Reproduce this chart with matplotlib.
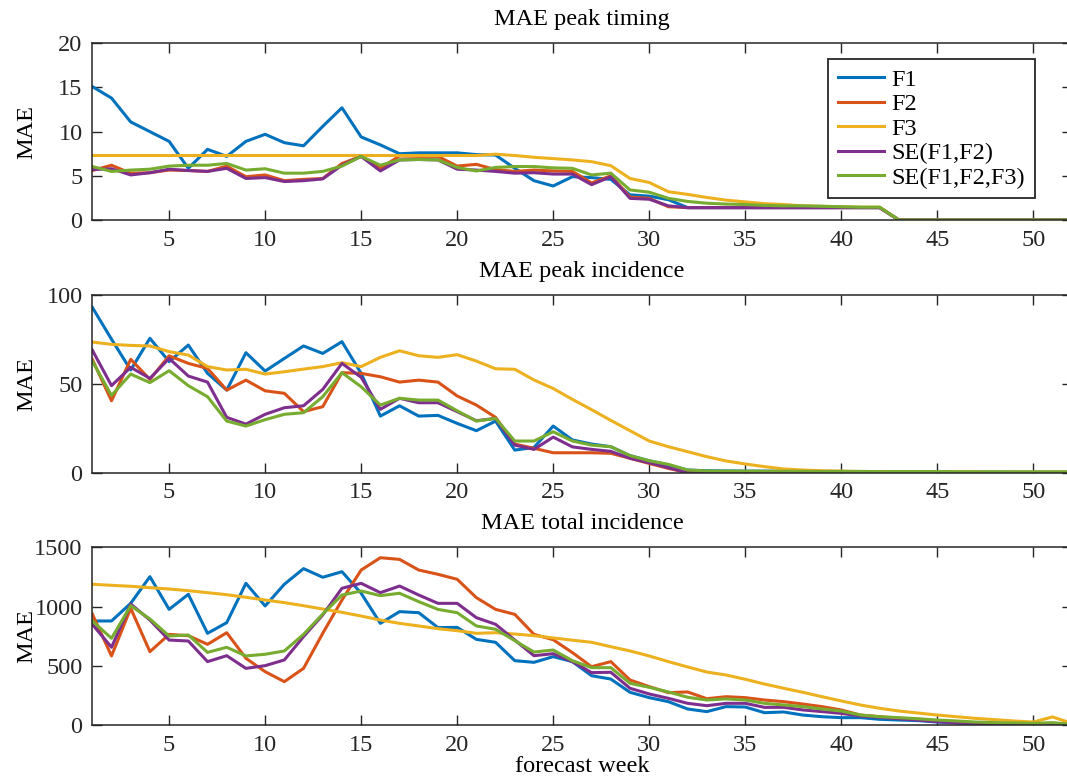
import numpy as np
import matplotlib
matplotlib.use("Agg")
import matplotlib.pyplot as plt

plt.rcParams['font.family'] = ['Liberation Serif', 'DejaVu Serif']
plt.rcParams['font.size'] = 17.5

weeks = np.arange(1, 53)
series_names = ['F1', 'F2', 'F3', 'SE(F1,F2)', 'SE(F1,F2,F3)']
colors = ['#0072BD', '#D95319', '#EDB120', '#7E2F8E', '#77AC30']

# MAE of the peak timing (weeks)
timing_f1 = [15.1, 13.8, 11.1, 10.0, 8.9, 5.85, 8.0, 7.2, 8.9, 9.7, 8.75, 8.4, 10.6, 12.7, 9.4, 8.5,
             7.5, 7.6, 7.6, 7.6, 7.4, 7.35, 5.85, 4.45, 3.85, 4.9, 4.8, 4.6, 2.85, 2.7, 2.3, 1.4,
             1.4, 1.4, 1.4, 1.4, 1.4, 1.4, 1.4, 1.4, 1.4, 1.4, 0, 0, 0, 0, 0, 0, 0, 0, 0, 0]
timing_f2 = [5.6, 6.2, 5.3, 5.35, 5.65, 5.6, 5.5, 6.1, 4.9, 5.1, 4.45, 4.6, 4.7, 6.4, 7.2, 5.85,
             7.25, 7.2, 7.2, 6.1, 6.3, 5.7, 5.5, 5.65, 5.55, 5.5, 4.2, 5.0, 2.6, 2.45, 1.5, 1.4,
             1.4, 1.4, 1.4, 1.4, 1.4, 1.4, 1.4, 1.4, 1.4, 1.4, 0, 0, 0, 0, 0, 0, 0, 0, 0, 0]
timing_f3 = [7.3, 7.3, 7.3, 7.3, 7.3, 7.3, 7.3, 7.3, 7.3, 7.3, 7.3, 7.3, 7.3, 7.3, 7.3, 7.3,
             7.3, 7.3, 7.3, 7.3, 7.3, 7.45, 7.3, 7.1, 6.95, 6.8, 6.6, 6.15, 4.7, 4.25, 3.2, 2.9,
             2.55, 2.25, 2.05, 1.85, 1.75, 1.6, 1.55, 1.5, 1.45, 1.45, 0, 0, 0, 0, 0, 0, 0, 0, 0, 0]
timing_se12 = [5.7, 5.8, 5.1, 5.35, 5.75, 5.6, 5.5, 5.85, 4.7, 4.8, 4.35, 4.45, 4.65, 6.2, 7.2, 5.55,
               6.8, 6.85, 6.8, 5.75, 5.65, 5.5, 5.3, 5.35, 5.2, 5.2, 4.0, 4.9, 2.45, 2.35, 1.6, 1.4,
               1.4, 1.4, 1.4, 1.4, 1.4, 1.4, 1.4, 1.4, 1.4, 1.4, 0, 0, 0, 0, 0, 0, 0, 0, 0, 0]
timing_se123 = [6.05, 5.5, 5.65, 5.75, 6.1, 6.2, 6.2, 6.4, 5.65, 5.8, 5.3, 5.3, 5.5, 6.1, 7.2, 6.2,
                6.8, 6.85, 6.8, 5.95, 5.55, 5.95, 6.05, 6.05, 5.9, 5.85, 5.1, 5.3, 3.4, 3.15, 2.45, 2.1,
                1.9, 1.8, 1.75, 1.65, 1.6, 1.6, 1.55, 1.5, 1.45, 1.45, 0, 0, 0, 0, 0, 0, 0, 0, 0, 0]

# MAE of the peak incidence
peak_f1 = [92.9, 75.0, 57.7, 75.5, 62.4, 71.7, 55.8, 46.4, 67.4, 57.1, 64.2, 71.2, 67.0, 73.6, 55.8, 31.8,
           37.6, 31.8, 32.2, 27.7, 23.6, 29.0, 12.7, 14.2, 26.2, 18.4, 16.1, 14.6, 9.6, 6.7, 4.3, 1.5,
           1.1, 1.0, 0.9, 0.9, 0.8, 0.8, 0.7, 0.7, 0.6, 0.6, 0.5, 0.5, 0.5, 0.4, 0.4, 0.4, 0.3, 0.3, 0.3, 0.3]
peak_f2 = [63.7, 40.4, 63.7, 52.4, 65.7, 61.4, 58.6, 46.4, 52.0, 46.0, 44.6, 34.3, 37.1, 56.2, 55.8, 53.9,
           50.9, 52.0, 50.9, 43.1, 38.0, 31.1, 16.1, 13.7, 11.2, 11.2, 11.2, 10.9, 8.1, 5.2, 2.4, 0,
           0, 0, 0, 0, 0, 0, 0, 0, 0, 0, 0, 0, 0, 0, 0, 0, 0, 0, 0, 0]
peak_f3 = [73.4, 72.1, 71.5, 71.2, 68.0, 66.1, 59.6, 57.7, 58.1, 55.4, 56.7, 58.2, 59.6, 61.8, 59.6, 64.8,
           68.5, 65.7, 64.8, 66.3, 62.7, 58.4, 58.1, 52.1, 47.3, 41.2, 35.4, 29.4, 23.6, 17.8, 14.6, 11.8,
           9.0, 6.6, 4.9, 3.4, 2.1, 1.5, 1.1, 0.9, 0.7, 0.6, 0.5, 0.5, 0.4, 0.4, 0.4, 0.3, 0.3, 0.3, 0.3, 0.3]
peak_se12 = [68.9, 48.9, 59.2, 53.0, 64.2, 54.3, 50.9, 31.1, 27.3, 32.8, 36.5, 37.6, 46.8, 61.4, 53.6, 35.6,
             41.8, 39.3, 39.3, 34.3, 29.2, 30.5, 15.5, 13.1, 20.0, 14.5, 13.1, 12.0, 8.1, 5.6, 2.8, 0,
             0, 0, 0, 0, 0, 0, 0, 0, 0, 0, 0, 0, 0, 0, 0, 0, 0, 0, 0, 0]
peak_se123 = [62.7, 43.4, 55.4, 50.6, 57.3, 48.9, 42.7, 29.0, 26.2, 29.8, 32.8, 33.7, 42.7, 56.2, 48.3, 38.0,
              41.8, 40.8, 40.8, 34.8, 29.0, 30.5, 17.8, 17.8, 23.0, 17.8, 15.5, 14.6, 9.6, 6.7, 4.7, 1.5,
              1.0, 0.9, 0.9, 0.8, 0.8, 0.8, 0.7, 0.7, 0.7, 0.6, 0.6, 0.6, 0.6, 0.5, 0.5, 0.5, 0.5, 0.5, 0.5, 0.5]

# MAE of the total incidence
total_f1 = [878, 878, 1027, 1252, 976, 1103, 774, 864, 1196, 1005, 1188, 1320, 1247, 1294, 1112, 858,
            957, 948, 822, 824, 723, 698, 543, 529, 577, 535, 416, 388, 276, 231, 197, 135,
            113, 155, 152, 104, 110, 84, 70, 62, 62, 48, 42, 37, 25, 18, 14, 11, 9, 7, 6, 5]
total_f2 = [937, 583, 985, 619, 765, 754, 681, 779, 563, 450, 366, 478, 774, 1055, 1308, 1412,
            1398, 1308, 1272, 1230, 1075, 976, 934, 765, 720, 611, 492, 535, 380, 324, 273, 279,
            222, 239, 231, 211, 197, 177, 155, 127, 84, 70, 56, 48, 34, 25, 20, 14, 11, 8, 6, 3]
total_f3 = [1188, 1179, 1171, 1159, 1148, 1134, 1117, 1100, 1078, 1055, 1033, 1007, 979, 951, 920, 886,
            858, 836, 813, 796, 774, 779, 768, 754, 735, 716, 698, 661, 625, 583, 535, 490,
            447, 422, 386, 346, 310, 276, 239, 203, 169, 141, 118, 101, 84, 70, 56, 45, 34, 25, 68, 15]
total_se12 = [850, 656, 1021, 886, 717, 709, 535, 585, 478, 501, 549, 746, 929, 1154, 1196, 1117,
              1173, 1097, 1027, 1027, 906, 850, 717, 585, 602, 535, 442, 445, 310, 262, 225, 183,
              163, 183, 183, 149, 149, 127, 113, 98, 76, 65, 53, 42, 28, 20, 14, 10, 8, 6, 5, 3]
total_se123 = [878, 732, 1007, 895, 751, 760, 613, 656, 583, 597, 625, 765, 937, 1097, 1131, 1092,
               1112, 1041, 976, 948, 836, 808, 712, 616, 633, 543, 484, 484, 352, 318, 279, 234,
               211, 220, 211, 183, 169, 155, 135, 118, 84, 70, 62, 53, 42, 34, 25, 20, 17, 14, 20, 6]

panels = [
    ('MAE peak timing', [timing_f1, timing_f2, timing_f3, timing_se12, timing_se123], 20, [0, 5, 10, 15, 20]),
    ('MAE peak incidence', [peak_f1, peak_f2, peak_f3, peak_se12, peak_se123], 100, [0, 50, 100]),
    ('MAE total incidence', [total_f1, total_f2, total_f3, total_se12, total_se123], 1500, [0, 500, 1000, 1500]),
]

fig = plt.figure(figsize=(10.67, 7.78), dpi=100)
W, H = 1067.0, 778.0
left, right = 92.3, 1071.7
boxes = [(43.3, 220.0), (294.7, 472.7), (547.3, 725.0)]

axes = []
for (top, bottom), (title, data, ymax, yticks) in zip(boxes, panels):
    ax = fig.add_axes([left / W, (H - bottom) / H, (right - left) / W, (bottom - top) / H])
    for vals, name, c in zip(data, series_names, colors):
        ax.plot(weeks, vals, color=c, lw=2.2, label=name)
    ax.set_xlim(1, 52)
    ax.set_ylim(0, ymax)
    ax.set_xticks(np.arange(5, 55, 5))
    ax.set_yticks(yticks)
    ax.set_ylabel('MAE')
    # same label column for every panel
    ax.yaxis.set_label_coords(-0.0565, 0.5)
    ax.set_title(title, pad=13, fontsize=17.5)
    ax.tick_params(direction='in', length=7, width=1.0, top=True, right=True,
                   colors='#262626', labelcolor='#262626', pad=7)
    for sp in ax.spines.values():
        sp.set_linewidth(1.1)
        sp.set_color('#262626')
    axes.append(ax)

axes[-1].set_xlabel('forecast week', labelpad=0)

leg = axes[0].legend(loc='upper right', bbox_to_anchor=(0.9625, 0.911), borderaxespad=0,
                     fontsize=17.5, handlelength=1.9, handletextpad=0.3, labelspacing=0.1,
                     borderpad=0.4, fancybox=False, framealpha=1, edgecolor='#262626')
leg.get_frame().set_linewidth(1.3)

fig.savefig('out.png', dpi=100)
